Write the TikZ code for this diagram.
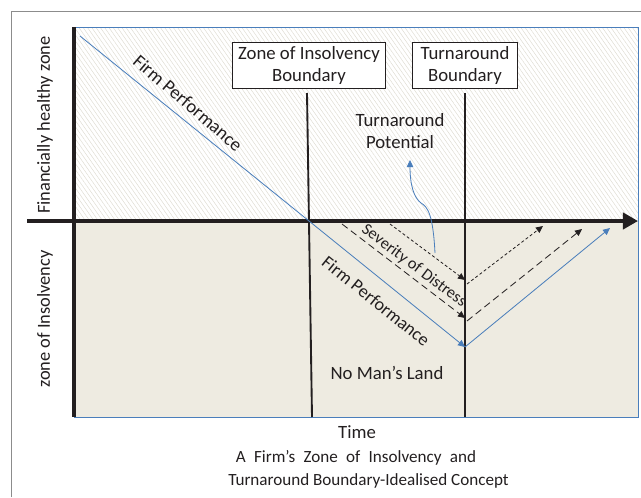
\documentclass[tikz,border=0pt]{standalone}
\usepackage{fontspec}
\setmainfont{Carlito}
\usetikzlibrary{arrows.meta, patterns.meta}

\definecolor{perfblue}{HTML}{4A7EBB}
\definecolor{sandfill}{HTML}{EEEBE1}
\definecolor{hatchgray}{HTML}{DCD9CE}
\definecolor{framegray}{HTML}{8C8C8C}
\definecolor{inkblack}{HTML}{231F20}

\tikzset{
	lbl/.style={text=inkblack, font=\fontsize{16}{19}\selectfont, align=center, inner sep=1pt},
	bndbox/.style={lbl, draw=inkblack, fill=white, line width=0.8pt, inner sep=0pt},
	bndline/.style={inkblack, line width=1.6pt},
	perf/.style={perfblue, line width=0.7pt},
	sevlong/.style={inkblack, line width=0.7pt, dash pattern=on 6pt off 3.5pt},
	sevshort/.style={inkblack, line width=0.7pt, dash pattern=on 2.5pt off 2pt},
	tip/.style={-{Triangle[length=6pt,width=5.5pt]}},
	caplbl/.style={lbl, font=\fontsize{14.6}{19}\selectfont}
}

\begin{document}
\begin{tikzpicture}[x=0.03cm, y=-0.03cm]
			\useasboundingbox (0,0) rectangle (641,497);
			
			\coordinate (perfstart) at (80,36);
			\coordinate (perflow) at (465,347);
			\coordinate (perfend) at (610,228);
			\coordinate (longstart) at (342,224);
			\coordinate (longlow) at (465,318);
			\coordinate (longrise) at (467,321);
			\coordinate (longend) at (582,229);
			\coordinate (shortstart) at (390,224);
			\coordinate (shortlow) at (465,280);
			\coordinate (shortrise) at (467,284);
			\coordinate (shortend) at (543,226);
			\coordinate (zibtop) at (307,93);
			\coordinate (zibbot) at (312,417);
			\coordinate (tbtop) at (465,93);
			\coordinate (tbbot) at (465,417);
			\coordinate (sevpoint) at (435,253);
			\coordinate (tptip) at (410,160);
			
			% frame and zones
			\draw [framegray, line width=0.8pt] (11,497) -- (11,11) -- (641,11);
			\fill [white] (74,27) rectangle (638,221);
			\fill [pattern={Lines[angle=-55, distance=3pt, line width=0.35pt]}, pattern color=hatchgray] (74,27) rectangle (638,221);
			\fill [sandfill] (74,221) rectangle (638,417);
			\draw [perfblue, line width=0.5pt] (74,27) rectangle (638,417);
			
			% boundaries
			\node [bndbox, minimum width=131pt, minimum height=40pt] (zib) at (309,65.5) {Zone of Insolvency\\Boundary};
			\node [bndbox, minimum width=90pt, minimum height=40pt] (tb) at (465,65.5) {Turnaround\\Boundary};
			\draw [bndline] (zibtop) -- (zibbot);
			\draw [bndline] (tbtop) -- (tbbot);
			
			% axes
			\draw [inkblack, line width=3pt, -{Triangle[length=13pt,width=14pt]}] (27,221) -- (638,221);
			\draw [inkblack, line width=3pt] (74,27) -- (74,417);
			
			% severity paths
			\draw [sevlong, tip] (longstart) -- (longlow);
			\draw [sevlong, tip] (longrise) -- (longend);
			\draw [sevshort, tip] (shortstart) -- (shortlow);
			\draw [sevshort, tip] (shortrise) -- (shortend);
			
			% firm performance
			\draw [perf, tip] (perfstart) -- (perflow);
			\draw [perf, tip] (perflow) -- (perfend);
			\draw [perf, tip] (sevpoint) .. controls (433,215) and (428,207) .. (421,203) .. controls (414,198) and (410,185) .. (tptip);
			
			% labels
			\node [lbl, rotate=-40.5] (perfup) at (188,103) {Firm Performance};
			\node [lbl, rotate=-39, font=\fontsize{15.5}{18}\selectfont] (perfdown) at (376,301) {Firm Performance};
			\node [lbl, rotate=-37, font=\fontsize{14}{17}\selectfont] (sev) at (414,266) {Severity of Distress};
			\node [lbl] (tp) at (400,131) {Turnaround\\Potential};
			\node [lbl] (nml) at (387,373) {No Man’s Land};
			\node [lbl] (time) at (357,432) {Time};
			\node [lbl, rotate=90, font=\fontsize{15.7}{18}\selectfont] (healthy) at (45,125) {Financially healthy zone};
			\node [lbl, rotate=90, font=\fontsize{15.7}{18}\selectfont] (insolv) at (45,319) {zone of Insolvency};
			\node [caplbl] (capone) at (356,458) {\makebox[205pt][s]{A Firm’s Zone of Insolvency and}};
			\node [caplbl] (captwo) at (368.5,481) {Turnaround Boundary-Idealised Concept};
		\end{tikzpicture}
\end{document}
